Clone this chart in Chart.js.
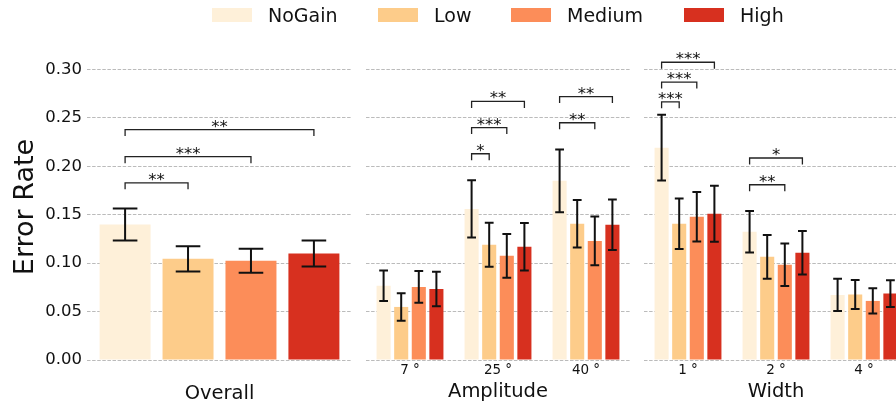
<!DOCTYPE html>
<html>
<head>
<meta charset="utf-8">
<script src="https://cdn.jsdelivr.net/npm/chart.js@4.4.1/dist/chart.umd.min.js"></script>
<style>
  html, body { margin: 0; padding: 0; background: #fff; overflow: hidden; }
  #figure { position: relative; width: 896px; height: 406px; overflow: hidden; font-family: "DejaVu Sans", sans-serif; }
  #figure canvas { position: absolute; top: 0; }
  .legend-item { position: absolute; top: 4px; height: 22px; display: flex; align-items: center; font-size: 19px; color: #111; white-space: nowrap; }
  .legend-item .swatch { width: 40px; height: 14px; margin-right: 16px; }
</style>
</head>
<body>
<div id="figure">
  <canvas id="overall" width="352" height="406" style="left:0px"></canvas>
  <canvas id="amplitude" width="264" height="406" style="left:366px"></canvas>
  <canvas id="width" width="264" height="406" style="left:644px"></canvas>
  <div id="legend"></div>
</div>
<script>
// Gain conditions and their colours
const gains = ["NoGain", "Low", "Medium", "High"];
const gainColors = ["#fef0d9", "#fdcc8a", "#fc8d59", "#d7301f"];

// Overall error rate: one row per gain (mean, error bar half-width)
const overallLabels = ["Overall"];
const overallMean = [[0.140], [0.1045], [0.1025], [0.110]];
const overallErr = [[0.0165], [0.013], [0.0125], [0.0135]];

// Error rate by amplitude, one row per gain
const amplitudeLabels = ["7 °", "25 °", "40 °"];
const amplitudeMean = [
  [0.0766, 0.156, 0.185],
  [0.0548, 0.119, 0.1407],
  [0.0755, 0.1076, 0.123],
  [0.0734, 0.1169, 0.1397],
];
const amplitudeErr = [
  [0.0157, 0.0295, 0.0323],
  [0.0142, 0.0228, 0.0245],
  [0.0165, 0.0226, 0.0252],
  [0.0178, 0.0245, 0.026],
];

// Error rate by width, one row per gain
const widthLabels = ["1 °", "2 °", "4 °"];
const widthMean = [
  [0.2193, 0.1324, 0.0672],
  [0.1407, 0.1065, 0.0676],
  [0.148, 0.0983, 0.061],
  [0.151, 0.1107, 0.0686],
];
const widthErr = [
  [0.034, 0.0215, 0.0166],
  [0.026, 0.0225, 0.015],
  [0.0255, 0.022, 0.013],
  [0.029, 0.0225, 0.0138],
];

// Significance brackets: [category, gain compared with NoGain, height, stars]
const overallBrackets = [[0, 1, 0.183, "**"], [0, 2, 0.210, "***"], [0, 3, 0.238, "**"]];
const amplitudeBrackets = [
  [1, 1, 0.213, "*"], [1, 2, 0.240, "***"], [1, 3, 0.267, "**"],
  [2, 2, 0.245, "**"], [2, 3, 0.272, "**"],
];
const widthBrackets = [
  [0, 1, 0.2666, "***"], [0, 2, 0.287, "***"], [0, 3, 0.3075, "***"],
  [1, 2, 0.181, "**"], [1, 3, 0.2086, "*"],
];

const FONT = "DejaVu Sans";
const TEXT = "#111";

// Vertical error bars with caps, on top of each bar
const errorBarPlugin = {
  id: "errorBars",
  afterDatasetsDraw(chart, args, opts) {
    const { ctx } = chart;
    const y = chart.scales.y;
    ctx.save();
    ctx.strokeStyle = "#111";
    ctx.lineWidth = 2;
    chart.data.datasets.forEach((ds, i) => {
      chart.getDatasetMeta(i).data.forEach((bar, j) => {
        const hi = y.getPixelForValue(ds.data[j] + ds.errors[j]);
        const lo = y.getPixelForValue(ds.data[j] - ds.errors[j]);
        ctx.beginPath();
        ctx.moveTo(bar.x, hi);
        ctx.lineTo(bar.x, lo);
        ctx.moveTo(bar.x - opts.cap, hi);
        ctx.lineTo(bar.x + opts.cap, hi);
        ctx.moveTo(bar.x - opts.cap, lo);
        ctx.lineTo(bar.x + opts.cap, lo);
        ctx.stroke();
      });
    });
    ctx.restore();
  },
};

// Brackets from the NoGain bar to the compared bar, stars above
const bracketPlugin = {
  id: "brackets",
  afterDatasetsDraw(chart, args, opts) {
    const { ctx } = chart;
    const y = chart.scales.y;
    const base = chart.getDatasetMeta(0).data;
    ctx.save();
    ctx.strokeStyle = "#222";
    ctx.lineWidth = 1.3;
    ctx.fillStyle = TEXT;
    ctx.font = `16.5px "${FONT}"`;
    ctx.textAlign = "center";
    ctx.textBaseline = "alphabetic";
    opts.list.forEach(([cat, gain, value, stars]) => {
      const x1 = base[cat].x;
      const x2 = chart.getDatasetMeta(gain).data[cat].x;
      const yy = y.getPixelForValue(value);
      ctx.beginPath();
      ctx.moveTo(x1, yy + 6.5);
      ctx.lineTo(x1, yy);
      ctx.lineTo(x2, yy);
      ctx.lineTo(x2, yy + 6.5);
      ctx.stroke();
      ctx.fillText(stars, (x1 + x2) / 2, yy + 2);
    });
    ctx.restore();
  },
};

function makePanel(id, labels, means, errs, brackets, cfg) {
  return new Chart(document.getElementById(id), {
    type: "bar",
    data: {
      labels: labels,
      datasets: gains.map((g, i) => ({
        label: g,
        data: means[i],
        errors: errs[i],
        backgroundColor: gainColors[i],
        borderWidth: 0,
        categoryPercentage: cfg.catPct,
        barPercentage: cfg.barPct,
      })),
    },
    options: {
      responsive: false,
      animation: false,
      devicePixelRatio: 1,
      layout: { padding: { top: 54, left: 0, right: 0, bottom: 0 } },
      plugins: {
        legend: { display: false },
        tooltip: { enabled: false },
        errorBars: { cap: cfg.cap },
        brackets: { list: brackets },
      },
      scales: {
        x: {
          grid: { display: false, drawTicks: false },
          border: { display: false },
          ticks: { display: cfg.xTicks, color: TEXT, padding: 2, font: { family: FONT, size: 13.5 } },
          title: {
            display: true, text: cfg.title, color: TEXT,
            font: { family: FONT, size: 19.5 }, padding: { top: 0, bottom: cfg.titlePad },
          },
          afterFit: (s) => { s.height = 46; },
        },
        y: {
          min: 0,
          max: 0.316,
          ticks: {
            display: cfg.yTicks, stepSize: 0.05, includeBounds: false, color: TEXT, padding: 5,
            font: { family: FONT, size: 16.5 },
            callback: (v) => v.toFixed(2),
          },
          grid: { color: "rgba(170,170,170,0.8)", lineWidth: 1, drawTicks: false },
          border: { display: false, dash: [3.5, 1.6] },
          title: {
            display: cfg.yTicks, text: "Error Rate", color: TEXT,
            font: { family: FONT, size: 27 }, padding: { top: 10, bottom: 0 },
          },
          afterFit: (s) => { s.width = cfg.yWidth; },
        },
      },
    },
    plugins: [errorBarPlugin, bracketPlugin],
  });
}

makePanel("overall", overallLabels, overallMean, overallErr, overallBrackets,
  { catPct: 0.95, barPct: 0.81, cap: 12.3, xTicks: false, yTicks: true, yWidth: 87, title: "Overall", titlePad: 0 });
makePanel("amplitude", amplitudeLabels, amplitudeMean, amplitudeErr, amplitudeBrackets,
  { catPct: 0.8, barPct: 0.8, cap: 4.4, xTicks: true, yTicks: false, yWidth: 0, title: "Amplitude", titlePad: 2.5 });
makePanel("width", widthLabels, widthMean, widthErr, widthBrackets,
  { catPct: 0.8, barPct: 0.8, cap: 4.4, xTicks: true, yTicks: false, yWidth: 0, title: "Width", titlePad: 2.5 });

// Legend row across the top
const legendLeft = [212, 378, 511, 684];
const legend = document.getElementById("legend");
gains.forEach((g, i) => {
  const item = document.createElement("div");
  item.className = "legend-item";
  item.style.left = legendLeft[i] + "px";
  const sw = document.createElement("span");
  sw.className = "swatch";
  sw.style.background = gainColors[i];
  item.appendChild(sw);
  item.appendChild(document.createTextNode(g));
  legend.appendChild(item);
});
</script>
</body>
</html>
